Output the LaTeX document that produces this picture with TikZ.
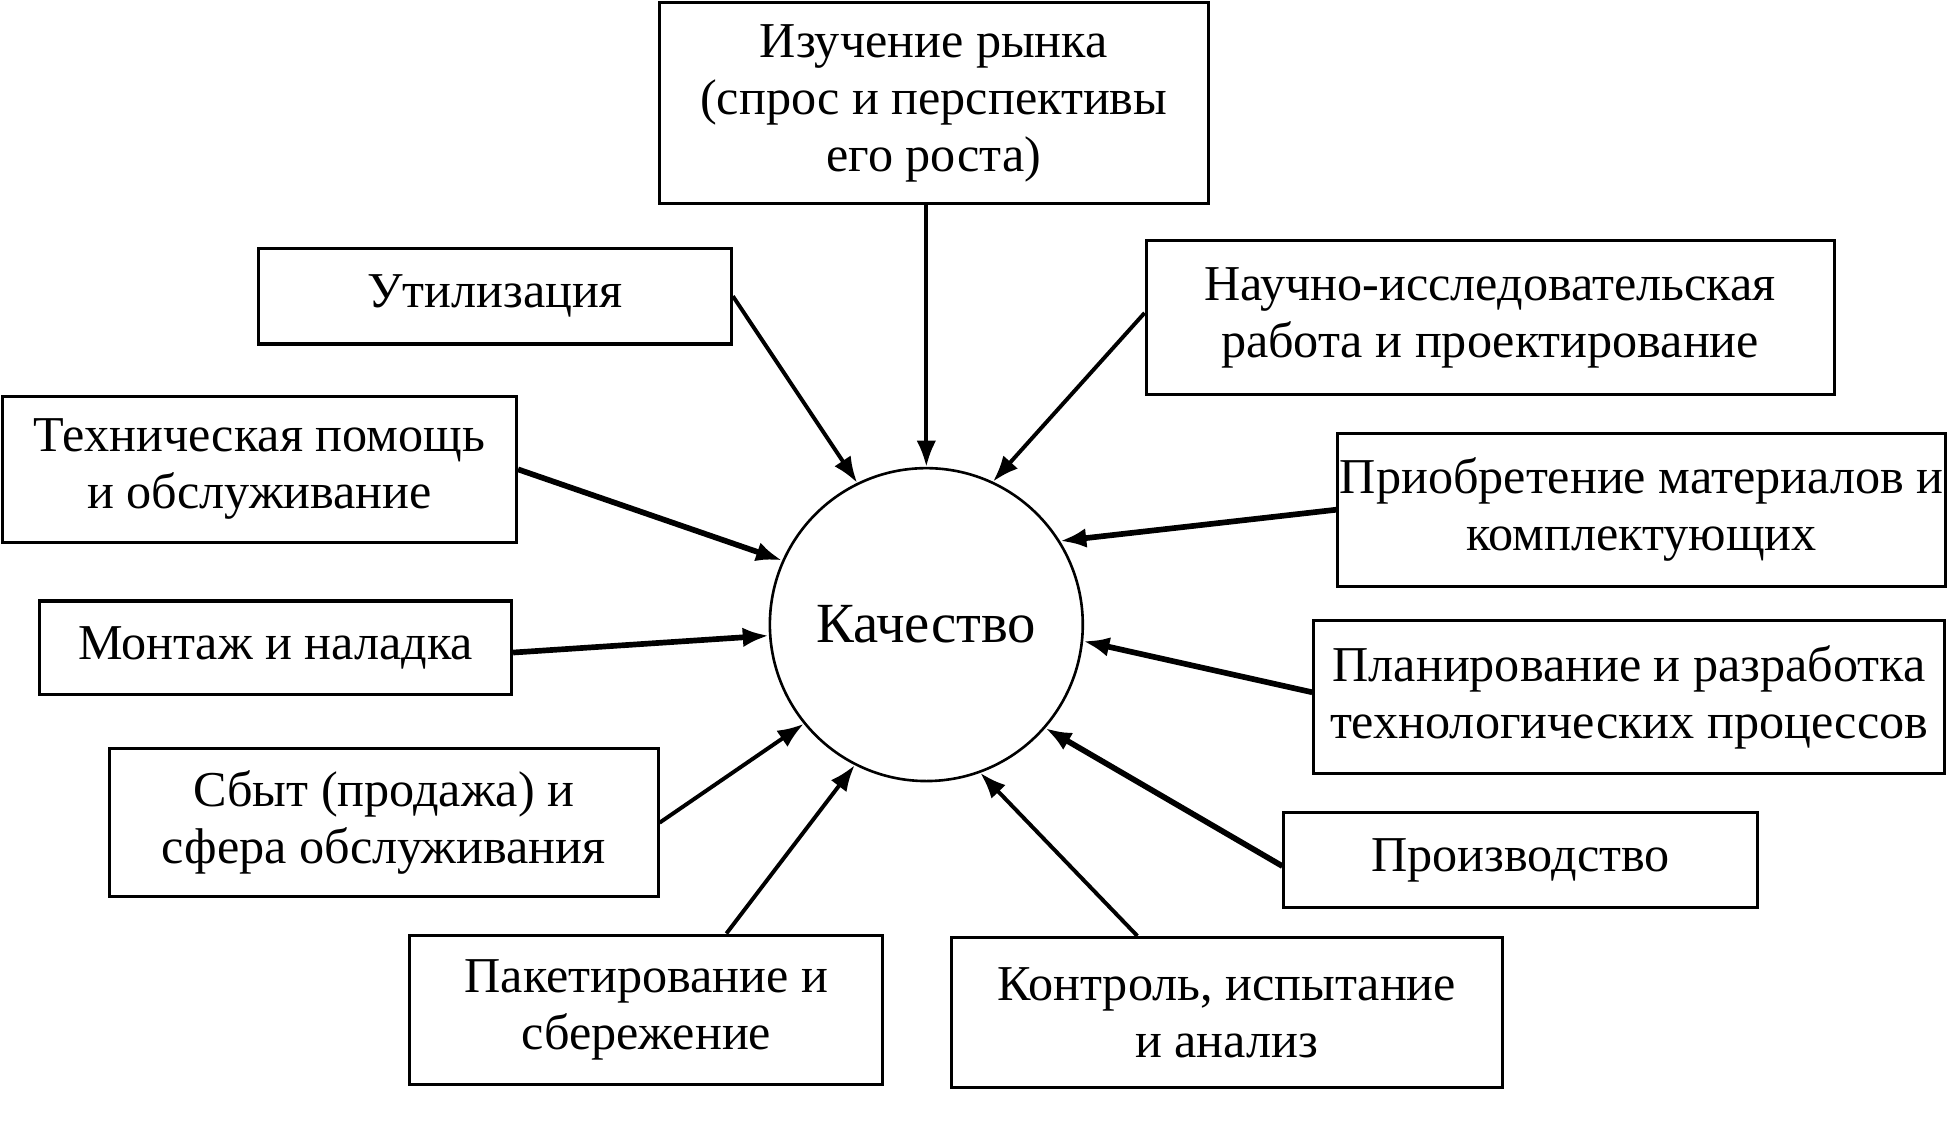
\documentclass[tikz,border=0pt]{standalone}
\usepackage{fontspec}
\setmainfont{Liberation Serif}
\usetikzlibrary{arrows.meta}

\begin{document}
\begin{tikzpicture}[
    blk/.style={draw,line width=0.7pt,align=center,inner xsep=0.5pt,inner ysep=2pt,
      font=\fontsize{11.5}{13.1}\selectfont},
    arr/.style={line width=0.9pt,-{Latex[length=6pt,width=4.5pt]}},
    arrb/.style={line width=1.3pt,-{Latex[length=6pt,width=4.5pt]}}
  ]
  \useasboundingbox (0,0) rectangle (15.68,-9.14);
  % centre
  \node[draw,circle,line width=0.6pt,minimum size=2.52cm,
    font=\fontsize{13}{15}\selectfont] (q) at (7.46,-5.03) {Качество};
  % boxes
  \node[blk,minimum width=4.42cm,minimum height=1.62cm] (izuch) at (7.52,-0.83)
    {Изучение рынка\\(спрос и перспективы\\его роста)};
  \node[blk,minimum width=3.81cm,minimum height=0.77cm] (util) at (3.985,-2.385)
    {Утилизация};
  \node[blk,minimum width=5.54cm,minimum height=1.24cm] (nauch) at (12.00,-2.56)
    {Научно-исследовательская\\работа и проектирование};
  \node[blk,minimum width=4.14cm,minimum height=1.18cm] (tekh) at (2.09,-3.78)
    {Техническая помощь\\и обслуживание};
  \node[blk,minimum width=4.88cm,minimum height=1.23cm] (priob) at (13.22,-4.105)
    {Приобретение материалов и\\комплектующих};
  \node[blk,minimum width=3.80cm,minimum height=0.75cm] (montazh) at (2.22,-5.215)
    {Монтаж и наладка};
  \node[blk,minimum width=5.08cm,minimum height=1.23cm] (plan) at (13.12,-5.615)
    {Планирование и разработка\\технологических процессов};
  \node[blk,minimum width=4.42cm,minimum height=1.19cm] (sbyt) at (3.09,-6.625)
    {Сбыт (продажа) и\\сфера обслуживания};
  \node[blk,minimum width=3.81cm,minimum height=0.77cm] (proizv) at (12.245,-6.925)
    {Производство};
  \node[blk,minimum width=3.81cm,minimum height=1.20cm] (paket) at (5.205,-8.13)
    {Пакетирование и\\сбережение};
  \node[blk,minimum width=4.44cm,minimum height=1.21cm] (kontr) at (9.88,-8.155)
    {Контроль, испытание\\и анализ};
  % arrows
  \draw[arr] (izuch.south -| q.north) -- (q.north);
  \draw[arr] (util.east) -- (q.116);
  \draw[arr] ([yshift=0.04cm]nauch.west) -- (q.65);
  \draw[arrb] (tekh.east) -- (q.156);
  \draw[arrb] (priob.west) -- (q.32);
  \draw[arrb] ([yshift=-0.04cm]montazh.east) -- (q.184);
  \draw[arrb] ([yshift=0.04cm]plan.west) -- (q.354);
  \draw[arr] (sbyt.east) -- (q.219);
  \draw[arrb] ([yshift=-0.05cm]proizv.west) -- (q.319);
  \draw[arr] ([xshift=0.645cm]paket.north) -- (q.243);
  \draw[arr] ([xshift=-0.72cm]kontr.north) -- (q.290);
\end{tikzpicture}
\end{document}
